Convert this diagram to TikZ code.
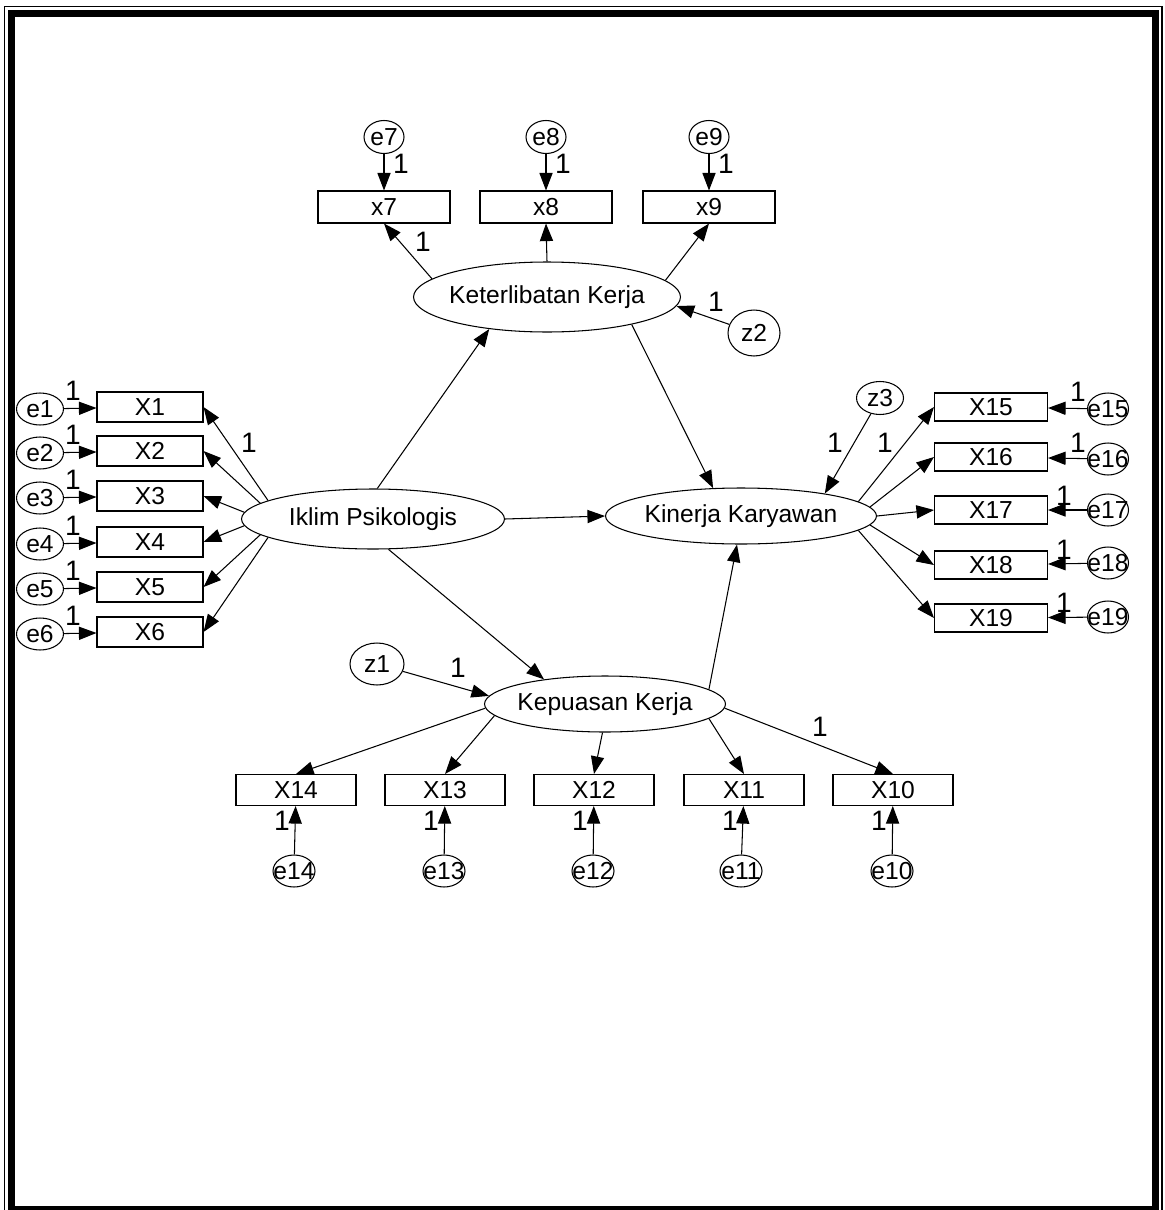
\documentclass[tikz,border=0pt]{standalone}
\usepackage{fontspec}
\setmainfont{Liberation Sans}
\usetikzlibrary{arrows.meta, shapes.geometric}

\begin{document}
\begin{tikzpicture}[
    x=0.02cm, y=-0.02cm,
    font=\fontsize{14}{16}\selectfont,
    obs/.style={draw, line width=0.6pt, minimum height=0.6cm, inner sep=0pt},
    err/.style={draw, ellipse, line width=0.6pt, inner sep=0pt},
    lat/.style={draw, ellipse, line width=0.6pt, inner sep=0pt},
    arr/.style={-{Triangle[length=10pt, width=7.5pt]}, line width=0.6pt},
    wt/.style={inner sep=0pt, font=\fontsize{16}{18}\selectfont}
]
\useasboundingbox (0,0) rectangle (1164,1210);

% ---- Frame ----
\draw[line width=4pt] (11.5,13.5) rectangle (1155,1209.5);
\draw[line width=0.8pt] (4.5,6.5) rectangle (1162,1216);

% ---- Latent variables ----
\node[lat, minimum width=5.34cm, minimum height=1.40cm, label=center:Keterlibatan Kerja] (ket) at (547,297) {};
\node[lat, minimum width=5.26cm, minimum height=1.20cm, label=center:Iklim Psikologis] (ikl) at (373,519) {};
\node[lat, minimum width=5.42cm, minimum height=1.12cm, label=center:Kinerja Karyawan] (kin) at (741,516) {};
\node[lat, minimum width=4.82cm, minimum height=1.12cm, label=center:Kepuasan Kerja] (kep) at (605,704) {};

\node[err, minimum width=1.08cm, minimum height=0.84cm, label=center:z1] (z1) at (377,664) {};
\node[err, minimum width=1.04cm, minimum height=0.92cm, label=center:z2] (z2) at (754,333) {};
\node[err, minimum width=0.94cm, minimum height=0.66cm, label=center:z3] (z3) at (880,398) {};

% ---- Structural paths ----
\draw[arr] (ikl.82) -- (ket.209);
\draw[arr] (ket.-18) -- (kin.135);
\draw[arr] (ikl.east) -- (kin.west);
\draw[arr] (ikl.-63) -- (kep.158);
\draw[arr] (kep.8) -- (kin.-98);
\draw[arr] (z1) -- (kep.176);
\draw[arr] (z2) -- (ket.-4);
\draw[arr] (z3) -- (kin.15);

\node[wt] (wz1) at (458,668) {1};
\node[wt] (wz2) at (716,302) {1};
\node[wt] (wz3) at (835,443) {1};

% ---- Keterlibatan Kerja: x7-x9 ----
\foreach \i/\x/\a in {7/384/171, 8/546/90, 9/709/8} {
    \node[obs, minimum width=2.64cm, minimum height=0.64cm] (x\i) at (\x,207) {x\i};
    \node[err, minimum width=0.80cm, minimum height=0.66cm, label=center:e\i] (e\i) at (\x,137) {};
    \draw[arr] (e\i) -- (x\i);
    \draw[arr] (ket.\a) -- (x\i.south);
    \node[wt] (w\i) at (\x+17,164) {1};
}
\node[wt] (wx7) at (423,242) {1};

% ---- Iklim Psikologis: X1-X6 ----
\foreach \i/\y/\a in {1/407/170, 2/451/172, 3/496/177, 4/542/183, 5/587/188, 6/632/190} {
    \node[obs, minimum width=2.12cm] (X\i) at (150,\y) {X\i};
    \node[err, minimum width=0.94cm, minimum height=0.64cm, label=center:e\i] (e\i) at (40,\y+2) {};
    \draw[arr] (e\i) -- (X\i);
    \draw[arr] (ikl.\a) -- (X\i.east);
    \node[wt] (w\i) at (73,\y-16) {1};
}
\node[wt] (wX1) at (249,443) {1};

% ---- Kinerja Karyawan: X15-X19 ----
\foreach \i/\y/\ey/\a/\wx/\wy in {15/407/409/7/1078/392, 16/457/459/4/1078/443,
        17/510/510/0/1064/496, 18/565/563/-4/1064/550, 19/618/617/-7/1064/603} {
    \node[obs, minimum width=2.26cm, minimum height=0.56cm] (X\i) at (991,\y) {X\i};
    \node[err, minimum width=0.82cm, minimum height=0.64cm, label=center:e\i] (e\i) at (1108,\ey) {};
    \draw[arr] (e\i) -- (X\i);
    \draw[arr] (kin.\a) -- (X\i.west);
    \node[wt] (w\i) at (\wx,\wy) {1};
}
\node[wt] (wX15) at (885,443) {1};

% ---- Kepuasan Kerja: X10-X14 ----
\foreach \i/\x/\ex/\a in {14/296/294/182, 13/445/444/186, 12/594/593/-95, 11/744/741/-8, 10/893/892/-2} {
    \node[obs, minimum width=2.40cm, minimum height=0.62cm] (X\i) at (\x,790) {X\i};
    \node[err, minimum width=0.84cm, minimum height=0.64cm, label=center:e\i] (e\i) at (\ex,871) {};
    \draw[arr] (e\i) -- (X\i);
    \draw[arr] (kep.\a) -- (X\i.north);
    \node[wt] (w\i) at (\x-14,821) {1};
}
\node[wt] (wX10) at (820,727) {1};

\end{tikzpicture}
\end{document}
